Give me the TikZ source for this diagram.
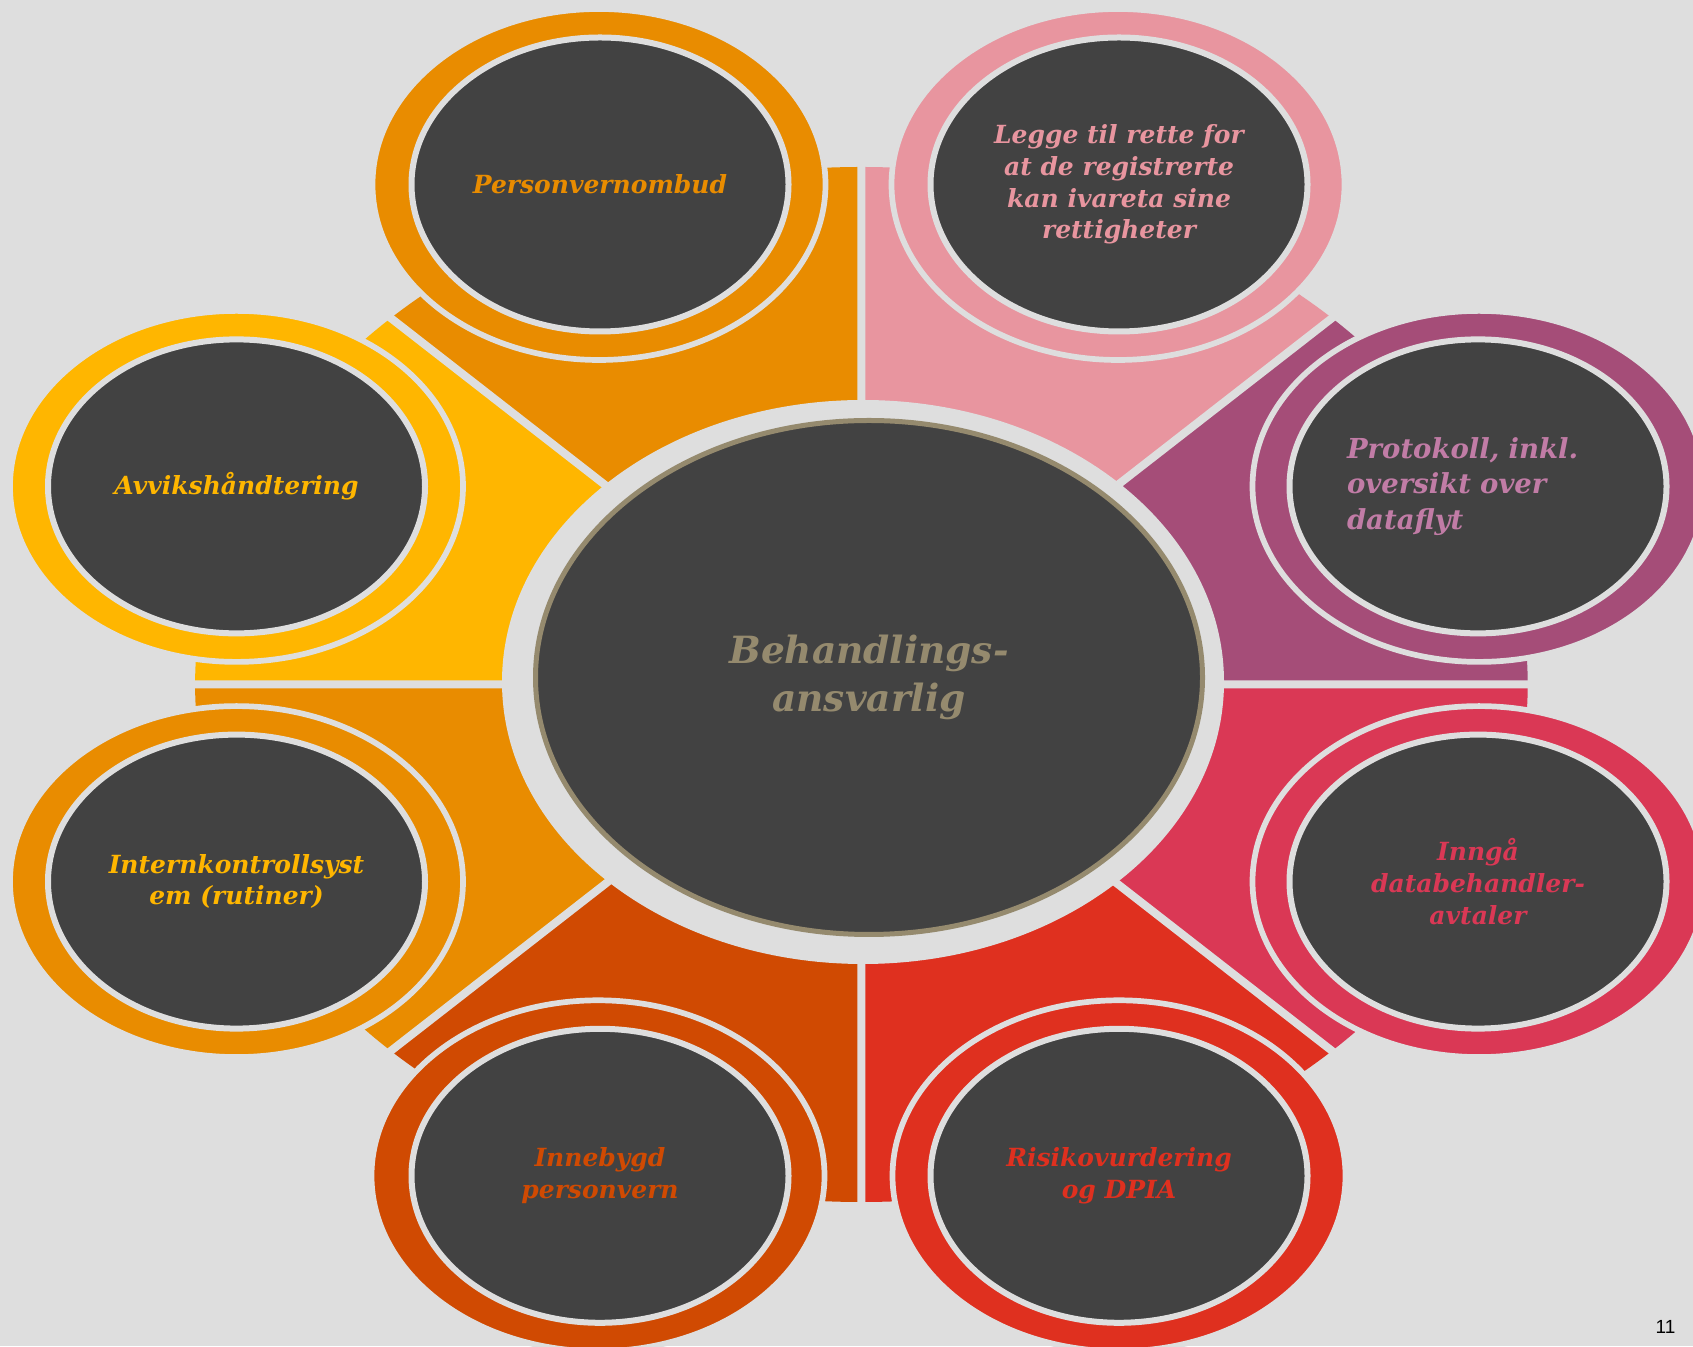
\documentclass[tikz,border=0pt]{standalone}
\usepackage{fontspec}
\usepackage{tikz}
\usepackage{xcolor}
\usetikzlibrary{shapes,positioning}

\newfontfamily\georgia{DejaVu Serif}
\setsansfont{Liberation Sans}

\definecolor{pvbg}{HTML}{DEDEDE}
\definecolor{pvdark}{HTML}{424242}
\definecolor{pvgold}{HTML}{958A6E}
\definecolor{pvorange}{HTML}{E98C00}
\definecolor{pvyellow}{HTML}{FFB600}
\definecolor{pvrust}{HTML}{D04A02}
\definecolor{pvred}{HTML}{DF301F}
\definecolor{pvrose}{HTML}{DA3855}
\definecolor{pvplum}{HTML}{A54D78}
\definecolor{pvplumtext}{HTML}{C17CA6}
\definecolor{pvpink}{HTML}{E8959F}

\begin{document}
\begin{tikzpicture}[x=1pt, y=1pt]
            \tikzstyle{outer} = [ellipse, draw=pvbg, line width=5.7pt, minimum width=453pt, minimum height=351pt]
            \tikzstyle{inner} = [ellipse, draw=pvbg, line width=6pt, fill=pvdark, minimum width=377pt, minimum height=294pt, inner sep=0pt, align=center, font=\georgia\bfseries\itshape\fontsize{25}{31.6}\selectfont]
            \tikzstyle{gap} = [draw=pvbg, line width=8pt]

            \useasboundingbox (0,0) rectangle (1693,1346);
            \clip (0,0) rectangle (1693,1346);
            \fill [pvbg] (0,0) rectangle (1693,1346);

            \coordinate (O) at (861.4,661.5);

            % wedges
            \fill [pvplum] (O) -- ++(0:666.3 and 517.5) arc [start angle=0, end angle=45, x radius=666.3, y radius=517.5] -- cycle;
            \fill [pvpink] (O) -- ++(45:666.3 and 517.5) arc [start angle=45, end angle=90, x radius=666.3, y radius=517.5] -- cycle;
            \fill [pvorange] (O) -- ++(90:666.3 and 517.5) arc [start angle=90, end angle=135, x radius=666.3, y radius=517.5] -- cycle;
            \fill [pvyellow] (O) -- ++(135:666.3 and 517.5) arc [start angle=135, end angle=180, x radius=666.3, y radius=517.5] -- cycle;
            \fill [pvorange] (O) -- ++(180:666.3 and 517.5) arc [start angle=180, end angle=225, x radius=666.3, y radius=517.5] -- cycle;
            \fill [pvrust] (O) -- ++(225:666.3 and 517.5) arc [start angle=225, end angle=270, x radius=666.3, y radius=517.5] -- cycle;
            \fill [pvred] (O) -- ++(270:666.3 and 517.5) arc [start angle=270, end angle=315, x radius=666.3, y radius=517.5] -- cycle;
            \fill [pvrose] (O) -- ++(315:666.3 and 517.5) arc [start angle=315, end angle=360, x radius=666.3, y radius=517.5] -- cycle;
            \path [gap] (O) -- ++(0:700 and 545) (O) -- ++(45:700 and 545) (O) -- ++(90:700 and 545) (O) -- ++(135:700 and 545)
                        (O) -- ++(180:700 and 545) (O) -- ++(225:700 and 545) (O) -- ++(270:700 and 545) (O) -- ++(315:700 and 545);

            % satellites
            \node [outer, fill=pvorange] (ombudring) at (599,1161.5) {};
            \node [inner, text=pvorange] (ombud) at (600,1161.5) {Personvernombud};

            \node [outer, fill=pvpink] (rettigheterring) at (1118,1161.5) {};
            \node [inner, text=pvpink] (rettigheter) at (1119,1161.5) {Legge til rette for\\at de registrerte\\kan ivareta sine\\rettigheter};

            \node [outer, fill=pvplum] (protokollring) at (1479,859.6) {};
            \node [inner, text=pvplumtext, align=left, text width=262pt, font=\georgia\bfseries\itshape\fontsize{27.5}{35.6}\selectfont] (protokoll) at (1478,859.6) {Protokoll, inkl.\\oversikt over\\dataflyt};

            \node [outer, fill=pvrose] (avtalerring) at (1479,464.4) {};
            \node [inner, text=pvrose] (avtaler) at (1478,464.4) {Inngå\\databehandler-\\avtaler};

            \node [outer, fill=pvred] (risikoring) at (1119,170.2) {};
            \node [inner, text=pvred] (risiko) at (1119,170.2) {Risikovurdering\\og DPIA};

            \node [outer, fill=pvrust] (innebygdring) at (598,170.2) {};
            \node [inner, text=pvrust] (innebygd) at (600,170.2) {Innebygd\\personvern};

            \node [outer, fill=pvorange] (internkontrollring) at (236.5,464.4) {};
            \node [inner, text=pvyellow] (internkontroll) at (236.5,464.4) {Internkontrollsyst\\em (rutiner)};

            \node [outer, fill=pvyellow] (avvikring) at (236.5,859.6) {};
            \node [inner, text=pvyellow] (avvik) at (236.5,859.6) {Avvikshåndtering};

            % centre
            \node [ellipse, fill=pvbg, minimum width=722pt, minimum height=564pt] (hubring) at (863,664) {};
            \node [ellipse, fill=pvdark, draw=pvgold, line width=5pt, minimum width=667pt, minimum height=514pt, inner sep=0pt, align=center, text=pvgold, font=\georgia\bfseries\itshape\fontsize{37.5}{47.5}\selectfont] (hub) at (869,668.5) {Behandlings-\\ansvarlig};

            \node [inner sep=0pt, font=\sffamily\fontsize{19}{22}\selectfont] (sidenr) at (1665.5,18.8) {11};
        \end{tikzpicture}
\end{document}
